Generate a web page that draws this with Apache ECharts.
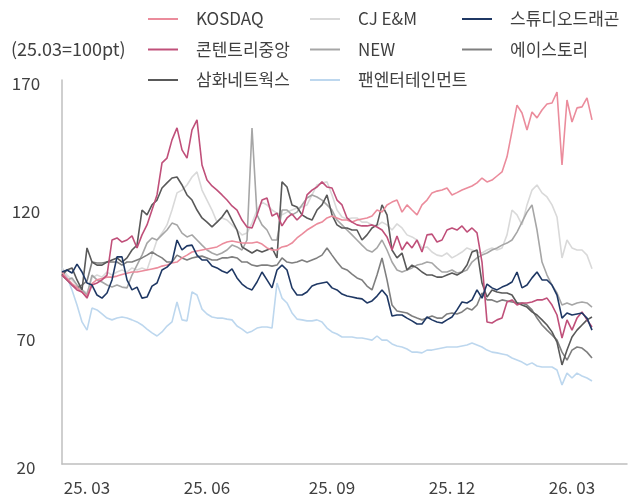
<!DOCTYPE html>
<html>
<head>
<meta charset="utf-8">
<script src="https://cdn.jsdelivr.net/npm/echarts@6/dist/echarts.min.js"></script>
<style>
    html, body{
        margin: 0;
        padding: 0;
        background: #fff;
    }
    #chart{
        width: 629px;
        height: 499px;
    }
</style>
</head>
<body>
<div id="chart"></div>
<script>
// 25.03=100pt, one sample every ~2.5 trading days
const tickLabels = ['25. 03', '25. 06', '25. 09', '25. 12', '26. 03'];
const tickIndex = [5, 29, 54, 78, 102];
const slotCount = 114;

const kosdaq = [95.0, 92.5, 90.5, 89.0, 87.0, 85.5, 90.5, 92.0, 92.5, 93.0,
  93.0, 93.4, 94.0, 94.5, 95.0, 95.0, 95.4, 95.8, 96.2, 96.6,
  97.3, 97.7, 98.5, 98.9, 100.5, 101.6, 102.8, 103.2, 103.6, 104.0,
  104.4, 104.8, 105.9, 106.7, 107.1, 106.7, 106.3, 106.3, 106.3, 106.7,
  105.9, 104.4, 103.6, 103.6, 104.8, 105.2, 106.3, 108.3, 109.8, 111.4,
  112.6, 113.8, 114.5, 116.1, 116.9, 116.1, 115.3, 115.3, 114.5, 115.3,
  115.7, 116.1, 116.9, 119.2, 118.4, 121.2, 122.3, 123.1, 118.4, 121.2,
  119.2, 117.3, 121.2, 123.1, 125.9, 126.6, 127.0, 127.8, 125.1, 126.0,
  127.0, 127.8, 128.6, 129.8, 131.7, 130.2, 130.9, 132.5, 134.1, 140.0,
  150.0, 160.2, 157.1, 150.5, 157.5, 155.2, 158.3, 160.6, 161.0, 165.3,
  136.8, 162.2, 153.6, 159.1, 159.5, 163.0, 154.4];

const contentree = [93.8, 91.9, 89.9, 88.0, 87.2, 84.8, 89.9, 90.7, 91.9, 93.8,
  107.5, 108.3, 106.7, 107.5, 109.1, 104.4, 109.5, 113.4, 119.2, 125.1,
  137.6, 139.5, 146.6, 151.3, 142.7, 139.5, 150.5, 154.4, 136.8, 130.9,
  128.6, 127.0, 125.1, 123.1, 120.8, 119.2, 115.3, 112.6, 112.2, 117.3,
  123.1, 123.9, 116.9, 118.0, 113.0, 116.1, 117.7, 115.3, 117.3, 125.1,
  127.0, 128.2, 130.2, 128.2, 127.8, 123.1, 121.2, 116.1, 114.5, 113.4,
  113.0, 113.0, 113.4, 112.6, 111.4, 108.7, 103.6, 109.1, 103.6, 106.7,
  104.4, 107.5, 102.8, 109.5, 109.8, 106.7, 107.5, 111.4, 112.2, 111.4,
  113.0, 110.6, 112.2, 110.3, 98.9, 75.5, 75.1, 76.3, 77.0, 83.3,
  84.1, 82.1, 82.9, 82.9, 83.3, 84.1, 84.1, 84.8, 82.1, 78.2,
  69.2, 76.3, 72.3, 77.0, 79.4, 76.3, 73.5];

const samhwa = [93.8, 95.8, 96.6, 91.9, 88.0, 104.4, 98.9, 97.7, 97.7, 98.9,
  99.7, 100.5, 98.9, 100.5, 103.6, 105.5, 119.2, 117.3, 121.2, 123.1,
  127.8, 129.8, 131.7, 132.1, 129.0, 125.1, 123.1, 119.2, 116.1, 114.5,
  112.6, 114.5, 116.5, 119.2, 115.3, 111.4, 104.8, 103.6, 102.4, 103.6,
  102.8, 103.6, 104.4, 100.5, 130.2, 128.2, 121.2, 120.4, 117.3, 116.1,
  115.3, 119.2, 121.2, 125.1, 117.3, 113.4, 112.2, 112.2, 111.4, 111.4,
  107.5, 109.5, 112.2, 113.4, 121.2, 117.3, 103.6, 100.5, 102.4, 95.8,
  97.7, 96.6, 95.0, 93.8, 93.8, 93.0, 93.0, 93.8, 94.6, 93.8,
  95.0, 97.7, 102.8, 103.6, 90.7, 85.2, 88.0, 87.2, 86.8, 86.8,
  86.0, 82.9, 82.1, 81.3, 79.4, 78.2, 76.3, 74.3, 71.6, 67.6,
  58.7, 64.5, 69.6, 72.3, 74.3, 76.3, 77.4];

const cjenm = [96.6, 93.8, 91.9, 89.9, 88.0, 86.8, 92.7, 93.8, 93.0, 95.0,
  93.8, 95.0, 95.8, 95.0, 96.6, 95.8, 96.6, 95.8, 101.6, 107.5,
  110.2, 113.4, 119.2, 125.9, 127.0, 129.0, 132.1, 134.1, 127.0, 123.1,
  119.2, 114.5, 116.1, 115.3, 113.4, 111.4, 109.5, 110.2, 114.1, 119.2,
  122.3, 121.2, 119.2, 118.0, 117.3, 118.4, 119.2, 120.0, 120.4, 121.2,
  125.1, 129.0, 129.8, 130.2, 125.1, 119.2, 116.5, 115.7, 116.1, 116.1,
  114.5, 114.5, 113.4, 113.0, 114.5, 113.4, 111.4, 113.8, 112.2, 109.5,
  108.7, 107.5, 104.4, 104.8, 102.8, 101.6, 101.2, 102.4, 100.5, 101.6,
  102.8, 104.4, 103.6, 102.8, 102.4, 103.6, 104.4, 103.6, 104.4, 109.5,
  119.2, 117.3, 113.4, 121.2, 127.0, 129.0, 125.9, 124.3, 121.2, 116.5,
  100.5, 107.5, 104.4, 103.6, 103.6, 101.6, 96.3];

const newco = [93.8, 91.9, 92.7, 89.9, 88.0, 86.0, 93.8, 91.9, 91.1, 89.9,
  89.1, 89.9, 89.1, 88.8, 93.8, 97.7, 101.6, 106.3, 108.3, 107.5,
  109.5, 111.4, 114.1, 113.4, 110.2, 108.7, 109.5, 107.5, 105.5, 103.6,
  102.4, 101.6, 102.4, 103.6, 105.5, 104.8, 103.6, 107.5, 151.2, 117.3,
  113.4, 111.4, 107.5, 107.5, 119.2, 119.2, 117.3, 118.4, 121.2, 123.9,
  125.1, 124.3, 123.1, 121.2, 119.2, 115.3, 113.4, 111.4, 109.5, 107.5,
  105.5, 103.6, 102.8, 104.4, 107.5, 103.6, 98.9, 95.8, 95.0, 95.8,
  96.6, 97.7, 98.1, 98.9, 98.5, 96.6, 95.0, 95.0, 95.8, 94.6,
  95.0, 95.8, 98.9, 100.5, 101.6, 102.4, 103.6, 104.4, 105.5, 106.3,
  107.5, 110.6, 114.5, 118.4, 121.2, 111.4, 98.9, 93.8, 89.9, 86.8,
  82.1, 82.9, 82.1, 82.9, 83.3, 82.9, 81.3];

const panent = [96.6, 93.0, 88.0, 82.1, 75.5, 72.3, 80.9, 80.2, 78.6, 77.0,
  76.3, 77.0, 77.4, 77.0, 76.3, 75.5, 74.3, 72.7, 71.2, 70.0,
  71.6, 73.9, 75.5, 83.3, 76.3, 75.9, 87.2, 86.0, 80.5, 78.6,
  77.4, 77.0, 77.0, 76.6, 76.3, 73.9, 72.7, 71.2, 71.9, 73.1,
  73.5, 73.5, 73.1, 90.7, 84.8, 82.9, 79.0, 76.6, 76.3, 75.9,
  75.9, 76.3, 75.5, 73.1, 71.6, 70.8, 69.6, 69.6, 69.6, 69.2,
  69.2, 68.8, 68.4, 70.0, 68.4, 68.4, 66.9, 66.1, 65.7, 64.9,
  63.7, 63.7, 63.4, 64.5, 64.5, 64.9, 65.3, 65.7, 65.7, 65.7,
  66.1, 66.5, 67.3, 66.5, 65.7, 64.5, 63.7, 63.4, 63.0, 62.6,
  61.4, 60.6, 59.8, 58.7, 59.5, 58.3, 57.9, 57.9, 57.9, 56.7,
  50.9, 55.5, 53.6, 55.5, 54.4, 53.6, 52.4];

const studio = [95.0, 95.8, 94.6, 98.1, 95.0, 90.7, 89.9, 86.0, 84.8, 86.8,
  91.9, 100.9, 100.9, 91.9, 88.0, 89.1, 84.8, 85.2, 89.5, 90.7,
  95.8, 96.9, 98.9, 107.5, 103.6, 105.2, 105.5, 101.6, 99.7, 99.7,
  97.3, 96.6, 95.4, 94.6, 96.2, 92.7, 90.3, 88.8, 88.0, 91.1,
  95.0, 91.9, 88.8, 95.8, 97.7, 95.8, 88.8, 86.0, 86.0, 87.2,
  89.5, 90.3, 90.7, 91.1, 88.8, 88.0, 86.4, 85.6, 85.2, 84.8,
  84.5, 82.9, 83.7, 85.6, 88.0, 85.6, 77.8, 78.2, 78.2, 77.0,
  75.9, 74.7, 74.7, 77.4, 76.3, 75.5, 75.1, 76.3, 77.4, 80.2,
  83.3, 82.9, 84.1, 88.0, 84.8, 90.3, 88.8, 88.0, 89.1, 89.9,
  91.1, 95.0, 88.8, 89.9, 92.7, 95.0, 91.9, 91.9, 89.9, 86.0,
  77.0, 79.0, 78.2, 78.6, 79.0, 77.0, 72.3];

const acestory = [93.8, 91.9, 89.9, 88.8, 89.9, 91.5, 98.9, 98.5, 98.5, 98.9,
  98.9, 98.9, 97.7, 98.9, 98.9, 99.7, 100.5, 101.6, 102.8, 101.6,
  100.5, 98.9, 98.9, 101.6, 100.5, 99.7, 100.5, 100.9, 101.2, 100.5,
  99.7, 99.7, 100.5, 100.5, 100.9, 100.5, 98.9, 98.9, 97.7, 97.3,
  97.7, 97.7, 97.3, 97.7, 100.5, 98.9, 98.5, 98.9, 99.7, 98.9,
  99.7, 100.5, 101.6, 104.4, 101.6, 98.9, 96.6, 95.8, 94.2, 92.7,
  91.9, 89.5, 88.0, 93.8, 100.5, 91.9, 82.1, 79.8, 79.4, 79.0,
  77.8, 77.0, 76.3, 77.0, 77.8, 77.0, 77.0, 78.6, 79.0, 78.6,
  79.4, 80.9, 80.2, 82.1, 86.8, 84.1, 84.1, 83.3, 84.1, 83.7,
  83.3, 82.9, 82.9, 82.1, 80.2, 77.0, 74.3, 72.3, 70.4, 68.4,
  63.7, 60.6, 64.5, 65.7, 65.3, 63.7, 61.4];

let chart = echarts.init(document.getElementById('chart'));

let categories = [];
for (let i = 0; i < slotCount; i++) {
  categories.push(i);
}

const font = 'Noto Sans CJK KR';
const textColor = '#404040';

function makeLine(name, data, color, z) {
  return {
    name: name,
    type: 'line',
    data: data,
    symbol: 'none',
    z: z,
    lineStyle: {width: 1.6, color: color},
    itemStyle: {color: color}
  };
}

function makeLegend(names, left) {
  return {
    orient: 'vertical',
    left: left,
    top: 9,
    padding: 0,
    data: names,
    icon: 'rect',
    itemWidth: 30,
    itemHeight: 2,
    itemGap: 10.5,
    selectedMode: false,
    textStyle: {
      fontFamily: font,
      fontSize: 17,
      color: textColor,
      lineHeight: 20,
      padding: [0, 0, 0, 13]
    }
  };
}

let option = {
  animation: false,
  title: {
    text: '(25.03=100pt)',
    left: 11,
    top: 37,
    padding: 0,
    textStyle: {fontFamily: font, fontSize: 18, lineHeight: 24, fontWeight: 'normal', color: textColor}
  },
  legend: [
    makeLegend(['KOSDAQ', '콘텐트리중앙', '삼화네트웍스'], 148),
    makeLegend(['CJ E&M', 'NEW', '팬엔터테인먼트'], 310),
    makeLegend(['스튜디오드래곤', '에이스토리'], 462)
  ],
  grid: {left: 62, right: 2, top: 80, bottom: 35, containLabel: false},
  xAxis: {
    type: 'category',
    boundaryGap: false,
    data: categories,
    axisLine: {lineStyle: {color: '#BFBFBF', width: 1.5}},
    axisTick: {show: false},
    axisLabel: {
      interval: function (idx) { return tickIndex.indexOf(idx) >= 0; },
      formatter: function (val, idx) { return tickLabels[tickIndex.indexOf(idx)]; },
      margin: 15,
      fontFamily: font,
      fontSize: 17,
      color: textColor
    },
    splitLine: {show: false}
  },
  yAxis: {
    type: 'value',
    min: 20,
    max: 170,
    interval: 50,
    axisLine: {show: true, lineStyle: {color: '#BFBFBF', width: 1.5}},
    axisTick: {show: false},
    splitLine: {show: false},
    axisLabel: {
      align: 'center',
      verticalAlign: 'top',
      lineHeight: 8,
      margin: 36,
      fontFamily: font,
      fontSize: 17,
      color: textColor
    }
  },
  series: [
    makeLine('팬엔터테인먼트', panent, '#BDD7EE', 1),
    makeLine('CJ E&M', cjenm, '#D9D9D9', 2),
    makeLine('NEW', newco, '#A6A6A6', 3),
    makeLine('에이스토리', acestory, '#7F7F7F', 4),
    makeLine('삼화네트웍스', samhwa, '#595959', 5),
    makeLine('KOSDAQ', kosdaq, '#EB8C9C', 6),
    makeLine('콘텐트리중앙', contentree, '#C0507A', 7),
    makeLine('스튜디오드래곤', studio, '#1F3864', 8)
  ]
};

chart.setOption(option);
</script>
</body>
</html>
